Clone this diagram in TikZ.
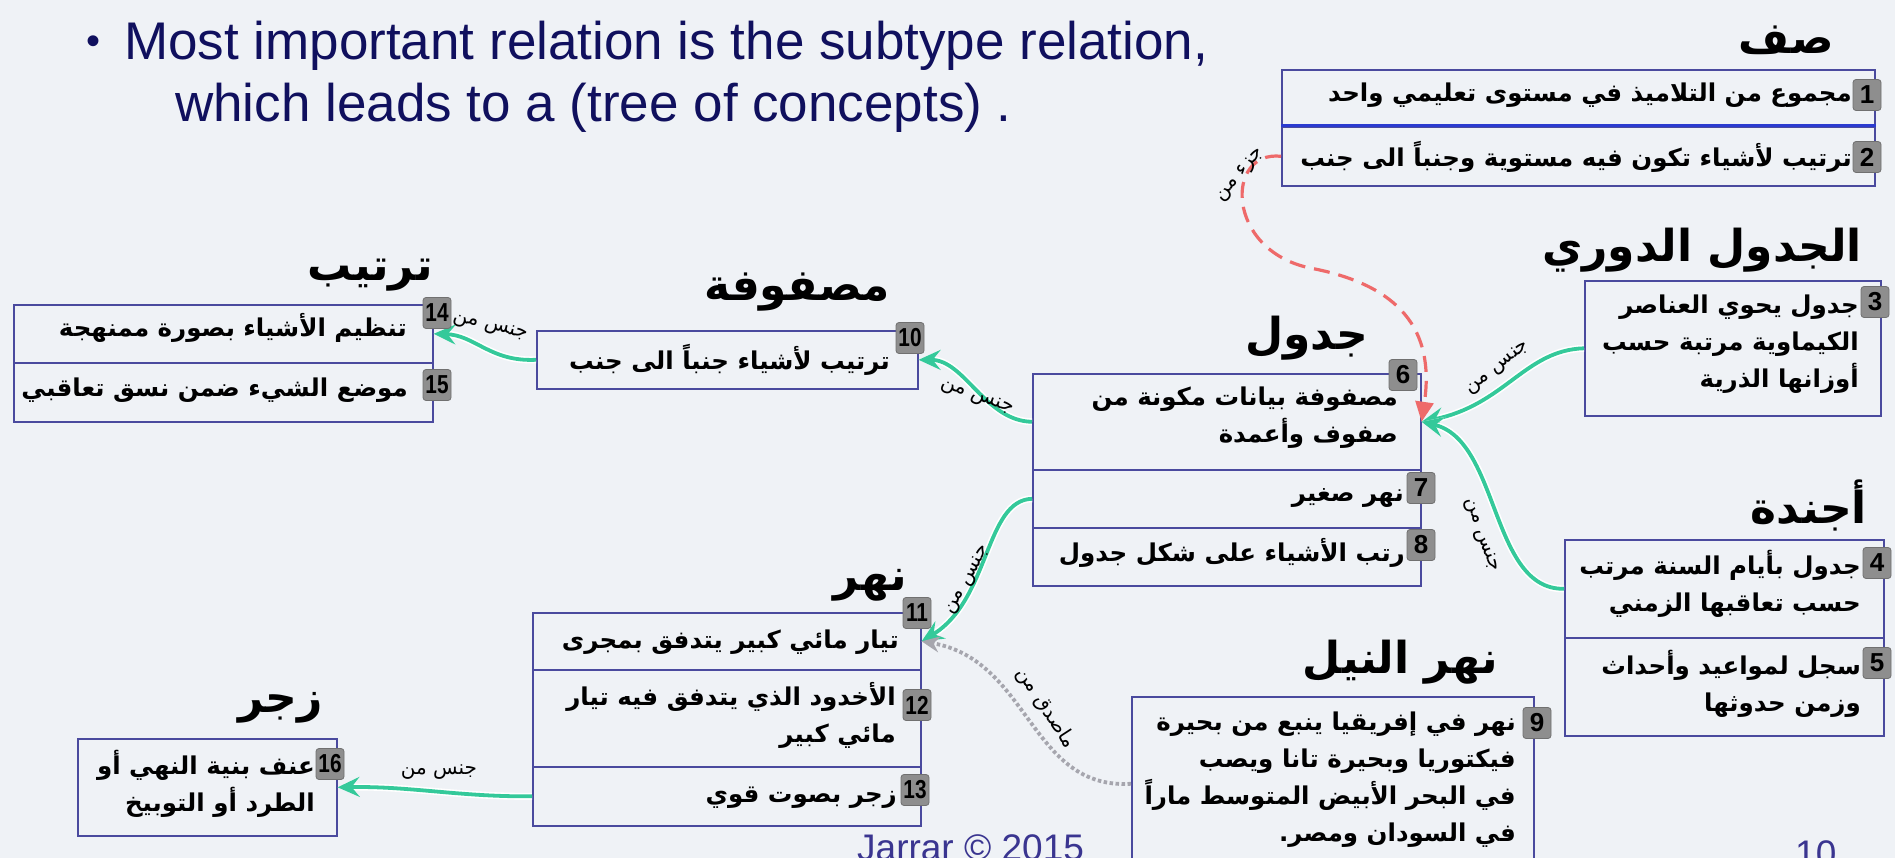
\documentclass[tikz,border=0pt]{standalone}
\usepackage{fontspec}
\setmainfont{Liberation Sans}
\newfontfamily\arabicfont[Script=Arabic]{DejaVu Sans}
\TeXXeTstate=1
\usetikzlibrary{arrows.meta}
\definecolor{bgcol}{HTML}{EFF2F6}
\definecolor{boxblue}{HTML}{4A4A9E}
\definecolor{selblue}{HTML}{2B3BD0}
\definecolor{navytext}{HTML}{10105E}
\definecolor{footcol}{HTML}{3A3590}
\definecolor{badgefill}{HTML}{8E8E8E}
\definecolor{badgeedge}{HTML}{707070}
\definecolor{relgreen}{HTML}{34C99A}
\definecolor{relred}{HTML}{EE6A6A}
\definecolor{relgray}{HTML}{A6A6AE}
\newcommand{\AR}[1]{\beginR #1\endR}
\begin{document}
\begin{tikzpicture}[x=1pt,y=-1pt,
  rowbox/.style={draw=boxblue, line width=1.6pt, inner sep=0pt, anchor=north west},
  badge/.style={fill=badgefill, draw=badgeedge, line width=0.8pt, rounded corners=3pt, minimum width=28pt, minimum height=31pt, inner sep=0pt, font=\fontsize{26}{26}\selectfont\bfseries},
  artext/.style={font=\fontsize{24.5}{37}\selectfont\arabicfont\bfseries, inner sep=0pt, anchor=east, align=right},
  concepttitle/.style={font=\fontsize{44}{44}\selectfont\arabicfont\bfseries, inner sep=0pt, anchor=east},
  rellabel/.style={font=\fontsize{20}{20}\selectfont\arabicfont, inner sep=0pt},
  genus/.style={draw=relgreen, line width=3.8pt, -{Stealth[length=22pt,width=20pt,inset=8pt]}, preaction={draw=white, line width=7pt}},
  partof/.style={draw=relred, line width=3.2pt, dash pattern=on 16pt off 9pt, -{Triangle[length=20pt,width=18pt]}},
  instof/.style={draw=relgray, line width=3.8pt, dash pattern=on 3.5pt off 2.5pt, -{Stealth[length=18pt,width=16pt,inset=6pt]}},
  engl/.style={font=\fontsize{53}{62}\selectfont, text=navytext, inner sep=0pt, anchor=base west},
]
\useasboundingbox (0,0) rectangle (1895,858);
\fill[bgcol] (0,0) rectangle (1895,858);

% English heading
\node[font=\fontsize{40}{40}\selectfont, text=navytext, inner sep=0pt] (bul) at (94,45) {•};
\node[engl] (l1) at (124,60) {Most important relation is the subtype relation,};
\node[engl] (l2) at (175,122) {which leads to a (tree of concepts) .};

% rows
\node[rowbox, minimum width=593pt, minimum height=57pt] (r1) at (1281,69) {};
\node[rowbox, minimum width=593pt, minimum height=59pt] (r2) at (1281,126) {};
\draw[selblue, line width=3pt] (r2.north west) -- (r2.north east);
\node[rowbox, minimum width=296pt, minimum height=135pt] (r3) at (1584,280) {};
\node[rowbox, minimum width=319pt, minimum height=98pt] (r4) at (1564,539) {};
\node[rowbox, minimum width=319pt, minimum height=98pt] (r5) at (1564,637) {};
\node[rowbox, minimum width=388pt, minimum height=96pt] (r6) at (1032,373) {};
\node[rowbox, minimum width=388pt, minimum height=58pt] (r7) at (1032,469) {};
\node[rowbox, minimum width=388pt, minimum height=58pt] (r8) at (1032,527) {};
\node[rowbox, minimum width=402pt, minimum height=174pt] (r9) at (1131,696) {};
\node[rowbox, minimum width=381pt, minimum height=58pt] (r10) at (536,330) {};
\node[rowbox, minimum width=388pt, minimum height=57pt] (r11) at (532,612) {};
\node[rowbox, minimum width=388pt, minimum height=97pt] (r12) at (532,669) {};
\node[rowbox, minimum width=388pt, minimum height=59pt] (r13) at (532,766) {};
\node[rowbox, minimum width=419pt, minimum height=58pt] (r14) at (13,304) {};
\node[rowbox, minimum width=419pt, minimum height=59pt] (r15) at (13,362) {};
\node[rowbox, minimum width=259pt, minimum height=97pt] (r16) at (77,738) {};

% connectors
\draw[genus] (r3.west) .. controls (1525,350) and (1505,405) .. (r6.east);
\draw[genus] (r4.west) .. controls (1490,590) and (1500,440) .. (r6.east);
\draw[genus] (r6.west) .. controls (985,421) and (965,360) .. (r10.east);
\draw[genus] (r10.west) .. controls (490,362) and (475,335) .. (r14.east);
\draw[genus] (r7.west) .. controls (985,500) and (990,600) .. (r11.east);
\draw[genus] (r13.west) .. controls (460,797) and (410,786) .. (r16.east);
\draw[partof] (r2.west) .. controls (1225,150) and (1225,250) .. (1310,268) .. controls (1400,285) and (1435,330) .. (r6.east);
\draw[instof] (r9.west) .. controls (1030,790) and (1030,660) .. (r11.east);

% relation labels
\node[rellabel, rotate=38] (la) at (1498,368) {\AR{جنس من}};
\node[rellabel, rotate=-71] (lb) at (1481,535) {\AR{جنس من}};
\node[rellabel, rotate=-20] (lc) at (977,397) {\AR{جنس من}};
\node[rellabel, rotate=-14] (ld) at (490,327) {\AR{جنس من}};
\node[rellabel, rotate=60] (le) at (968,580) {\AR{جنس من}};
\node[rellabel] (lf) at (439,772) {\AR{جنس من}};
\node[rellabel, rotate=50] (lr) at (1241,175) {\AR{جزء من}};
\node[rellabel, rotate=-57] (lg) at (1046,708) {\AR{ماصدق من}};

% badges
\node[badge] (b1) at (1867,95) {1};
\node[badge] (b2) at (1867,157) {2};
\node[badge] (b3) at (1875,302) {3};
\node[badge] (b4) at (1877,563) {4};
\node[badge] (b5) at (1877,663) {5};
\node[badge] (b6) at (1403,375) {6};
\node[badge] (b7) at (1421,488) {7};
\node[badge] (b8) at (1421,545) {8};
\node[badge] (b9) at (1537,723) {9};
\node[badge] (b10) at (910,338) {\scalebox{0.8}[1]{10}};
\node[badge] (b11) at (917,613) {\scalebox{0.8}[1]{11}};
\node[badge] (b12) at (917,705) {\scalebox{0.8}[1]{12}};
\node[badge] (b13) at (915,790) {\scalebox{0.8}[1]{13}};
\node[badge] (b14) at (437,313) {\scalebox{0.8}[1]{14}};
\node[badge] (b15) at (437,385) {\scalebox{0.8}[1]{15}};
\node[badge] (b16) at (330,764) {\scalebox{0.8}[1]{16}};

% row texts
\node[artext] (t1) at (1852,95) {\AR{مجموع من التلاميذ في مستوى تعليمي واحد}};
\node[artext] (t2) at (1852,157) {\AR{ترتيب لأشياء تكون فيه مستوية وجنباً الى جنب}};
\node[artext] (t3) at (1859,344) {\AR{جدول يحوي العناصر}\\\AR{الكيماوية مرتبة حسب}\\\AR{أوزانها الذرية}};
\node[artext] (t4) at (1861,584) {\AR{جدول بأيام السنة مرتب}\\\AR{حسب تعاقبها الزمني}};
\node[artext] (t5) at (1861,684) {\AR{سجل لمواعيد وأحداث}\\\AR{وزمن حدوثها}};
\node[artext] (t6) at (1398,418) {\AR{مصفوفة بيانات مكونة من}\\\AR{صفوف وأعمدة}};
\node[artext] (t7) at (1404,498) {\AR{نهر صغير}};
\node[artext] (t8) at (1405,553) {\AR{رتب الأشياء على شكل جدول}};
\node[artext] (t9) at (1516,780) {\AR{نهر في إفريقيا ينبع من بحيرة}\\\AR{فيكتوريا وبحيرة تانا ويصب}\\\AR{في البحر الأبيض المتوسط ماراً}\\\AR{في السودان ومصر.}};
\node[artext] (t10) at (890,360) {\AR{ترتيب لأشياء جنباً الى جنب}};
\node[artext] (t11) at (899,642) {\AR{تيار مائي كبير يتدفق بمجرى}};
\node[artext] (t12) at (896,715) {\AR{الأخدود الذي يتدفق فيه تيار}\\\AR{مائي كبير}};
\node[artext] (t13) at (897,798) {\AR{زجر بصوت قوي}};
\node[artext] (t14) at (407,328) {\AR{تنظيم الأشياء بصورة ممنهجة}};
\node[artext] (t15) at (408,390) {\AR{موضع الشيء ضمن نسق تعاقبي}};
\node[artext] (t16) at (315,784) {\AR{عنف بنية النهي أو}\\\AR{الطرد أو التوبيخ}};

% concept titles
\node[concepttitle] (c1) at (1834,40) {\AR{صف}};
\node[concepttitle] (c2) at (1862,250) {\AR{الجدول الدوري}};
\node[concepttitle] (c3) at (1867,505) {\AR{أجندة}};
\node[concepttitle] (c4) at (1368,338) {\AR{جدول}};
\node[concepttitle] (c5) at (890,292) {\AR{مصفوفة}};
\node[concepttitle] (c6) at (433,275) {\AR{ترتيب}};
\node[concepttitle] (c7) at (907,585) {\AR{نهر}};
\node[concepttitle] (c8) at (323,708) {\AR{زجر}};
\node[concepttitle] (c9) at (1498,662) {\AR{نهر النيل}};

% footer
\node[font=\fontsize{37}{37}\selectfont, text=footcol, inner sep=0pt, anchor=base west] (foot) at (857,860) {Jarrar © 2015};
\node[font=\fontsize{37}{37}\selectfont, text=footcol, inner sep=0pt, anchor=base west] (pageno) at (1795,866) {10};
\end{tikzpicture}
\end{document}
